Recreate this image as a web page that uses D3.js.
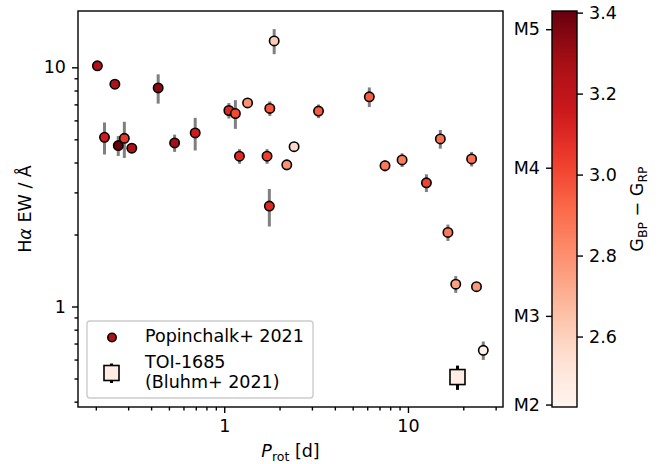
<!DOCTYPE html>
<html>
<head>
<meta charset="utf-8">
<script src="https://cdn.jsdelivr.net/npm/d3@7"></script>
<style>
  body { margin: 0; background: #fff; }
  text { font-family: "DejaVu Sans", sans-serif; fill: #000; }
</style>
</head>
<body>
<div id="main_div"></div>
<script>
// rotation period [d], H-alpha EW [A], error, Gaia BP-RP colour
var prot  = [0.204, 0.254, 0.223, 0.265, 0.286, 0.314, 0.437, 0.537, 0.695, 1.06,
             1.15, 1.34, 1.21, 1.77, 1.87, 1.71, 1.76, 2.19, 2.40, 3.26,
             6.16, 7.5, 9.29, 12.6, 15.0, 22.2, 16.5, 18.2, 23.6, 25.7];
var ewHa  = [10.15, 8.5, 5.1, 4.71, 5.05, 4.59, 8.2, 4.83, 5.32, 6.6,
             6.41, 7.1, 4.25, 6.73, 12.9, 4.25, 2.63, 3.91, 4.66, 6.56,
             7.53, 3.88, 4.10, 3.29, 5.02, 4.14, 2.04, 1.24, 1.21, 0.656];
var ewErr = [0.3, 0.3, 0.78, 0.45, 0.87, 0.15, 1.15, 0.4, 0.83, 0.49,
             0.88, 0.3, 0.3, 0.47, 1.55, 0.3, 0.47, 0.2, 0.1, 0.43,
             0.71, 0.21, 0.27, 0.28, 0.45, 0.29, 0.16, 0.1, 0.03, 0.058];
var bpRp  = [3.25, 3.25, 3.15, 3.4, 3.05, 3.25, 3.33, 3.28, 3.15, 3.1,
             3.0, 2.8, 3.1, 2.97, 2.62, 3.03, 3.1, 2.8, 2.57, 2.95,
             2.95, 2.87, 2.86, 3.02, 2.9, 2.9, 2.87, 2.75, 2.78, 2.45];

// TOI-1685 (Bluhm+ 2021)
var toiProt = 18.6, toiEw = 0.507, toiErr = 0.059, toiBpRp = 2.47;

var xTicks = [1, 10];
var yTicks = [1, 10];
var cbTicks = [2.6, 2.8, 3.0, 3.2, 3.4];
var sptLabels = ["M2", "M3", "M4", "M5"];
var sptBpRp = [2.432, 2.651, 3.017, 3.359];

var W = 663, H = 464;
var margin = {top: 11, left: 78},
    width = 425, height = 396;
var cbX = 552, cbW = 25;

var svg = d3.select("#main_div").append("svg")
    .attr("width", W).attr("height", H);

var x = d3.scaleLog().domain([0.16, 32.9]).range([margin.left, margin.left + width]);
var y = d3.scaleLog().domain([0.38, 17.2]).range([margin.top + height, margin.top]);
var c = d3.scaleLinear().domain([2.426, 3.404]).range([margin.top + height, margin.top]);

// matplotlib-like "Reds"
var reds = d3.scaleLinear()
    .domain(d3.range(9).map(function(i){ return i / 8; }))
    .range(d3.schemeReds[9])
    .interpolate(d3.interpolateRgb);
var colorOf = function(v){
    var t = (v - c.domain()[0]) / (c.domain()[1] - c.domain()[0]);
    return reds(Math.max(0, Math.min(1, t)));
};

var fs = 17.5;

// axes
function styleAxis(g){
    g.selectAll("path").remove();
    g.selectAll("line").attr("stroke", "#000").attr("stroke-width", 1.4);
    g.selectAll("text").style("font-size", fs + "px").style("font-family", "DejaVu Sans");
}
var xMinor = [];
[0.1, 1, 10].forEach(function(d){ for (var k = 2; k <= 9; k++) xMinor.push(d * k); });
xMinor = xMinor.filter(function(v){ return v > x.domain()[0] && v < x.domain()[1]; });
var yMinor = [];
[0.1, 1, 10].forEach(function(d){ for (var k = 2; k <= 9; k++) yMinor.push(d * k); });
yMinor = yMinor.filter(function(v){ return v > y.domain()[0] && v < y.domain()[1]; });

var bottomY = margin.top + height;
svg.append("g").attr("transform", "translate(0," + bottomY + ")")
    .call(d3.axisBottom(x).tickValues(xMinor).tickSize(3.5).tickFormat(""))
    .call(styleAxis);
svg.append("g").attr("transform", "translate(0," + bottomY + ")")
    .call(d3.axisBottom(x).tickValues(xTicks).tickSize(6).tickPadding(7).tickFormat(d3.format("d")))
    .call(styleAxis);
svg.append("g").attr("transform", "translate(" + margin.left + ",0)")
    .call(d3.axisLeft(y).tickValues(yMinor).tickSize(3.5).tickFormat(""))
    .call(styleAxis);
svg.append("g").attr("transform", "translate(" + margin.left + ",0)")
    .call(d3.axisLeft(y).tickValues(yTicks).tickSize(6).tickPadding(6).tickFormat(d3.format("d")))
    .call(styleAxis);

// error bars
var pts = prot.map(function(p, i){ return {p: p, ew: ewHa[i], err: ewErr[i], col: bpRp[i]}; });
svg.append("g").selectAll("line").data(pts).enter().append("line")
    .attr("x1", function(d){ return x(d.p); })
    .attr("x2", function(d){ return x(d.p); })
    .attr("y1", function(d){ return y(d.ew + d.err); })
    .attr("y2", function(d){ return y(d.ew - d.err); })
    .attr("stroke", "#808080").attr("stroke-width", 3);

svg.append("g").selectAll("circle").data(pts).enter().append("circle")
    .attr("cx", function(d){ return x(d.p); })
    .attr("cy", function(d){ return y(d.ew); })
    .attr("r", 4.7)
    .attr("fill", function(d){ return colorOf(d.col); })
    .attr("stroke", "#000").attr("stroke-width", 1.6);

// TOI-1685
svg.append("line")
    .attr("x1", x(toiProt)).attr("x2", x(toiProt))
    .attr("y1", y(toiEw + toiErr)).attr("y2", y(toiEw - toiErr))
    .attr("stroke", "#000").attr("stroke-width", 3);
svg.append("rect")
    .attr("x", x(toiProt) - 7.5).attr("y", y(toiEw) - 7.5)
    .attr("width", 15).attr("height", 15)
    .attr("fill", colorOf(toiBpRp))
    .attr("stroke", "#000").attr("stroke-width", 1.6);

// frame
svg.append("rect")
    .attr("x", margin.left).attr("y", margin.top)
    .attr("width", width).attr("height", height)
    .attr("fill", "none").attr("stroke", "#000").attr("stroke-width", 1.4);

// axis labels
var xl = svg.append("text")
    .attr("x", margin.left + width / 2).attr("y", 457)
    .attr("text-anchor", "middle").style("font-size", fs + "px");
xl.append("tspan").style("font-style", "italic").text("P");
xl.append("tspan").attr("dy", 4).style("font-size", "12.5px").text("rot");
xl.append("tspan").attr("dy", -4).text(" [d]");

var yl = svg.append("text")
    .attr("transform", "translate(31," + (margin.top + height / 2) + ") rotate(-90)")
    .attr("text-anchor", "middle").style("font-size", fs + "px");
yl.append("tspan").text("H");
yl.append("tspan").style("font-style", "italic").text("α");
yl.append("tspan").text(" EW / Å");

// legend
var lg = svg.append("g");
lg.append("rect")
    .attr("x", 87).attr("y", 321).attr("width", 226).attr("height", 77)
    .attr("rx", 3).attr("fill", "#fff").attr("fill-opacity", 0.8)
    .attr("stroke", "#ccc").attr("stroke-width", 1.4);
lg.append("circle").attr("cx", 112).attr("cy", 337.5).attr("r", 4.2)
    .attr("fill", colorOf(3.25)).attr("stroke", "#000").attr("stroke-width", 1.6);
lg.append("text").attr("x", 145).attr("y", 342).style("font-size", fs + "px").text("Popinchalk+ 2021");
lg.append("line").attr("x1", 111.5).attr("x2", 111.5).attr("y1", 363.5).attr("y2", 383)
    .attr("stroke", "#000").attr("stroke-width", 3);
lg.append("rect").attr("x", 104).attr("y", 365.5).attr("width", 15).attr("height", 15)
    .attr("fill", colorOf(toiBpRp)).attr("stroke", "#000").attr("stroke-width", 1.6);
lg.append("text").attr("x", 145).attr("y", 368).style("font-size", fs + "px").text("TOI-1685");
lg.append("text").attr("x", 145).attr("y", 388).style("font-size", fs + "px").text("(Bluhm+ 2021)");

// colorbar
var grad = svg.append("defs").append("linearGradient")
    .attr("id", "cbgrad").attr("x1", 0).attr("x2", 0).attr("y1", 1).attr("y2", 0);
grad.selectAll("stop").data(d3.range(0, 1.0001, 0.05)).enter().append("stop")
    .attr("offset", function(d){ return d; })
    .attr("stop-color", function(d){ return reds(d); });
svg.append("rect")
    .attr("x", cbX).attr("y", margin.top).attr("width", cbW).attr("height", height)
    .attr("fill", "url(#cbgrad)");
svg.append("g").attr("transform", "translate(" + (cbX + cbW) + ",0)")
    .call(d3.axisRight(c).tickValues(cbTicks).tickSize(6).tickPadding(6).tickFormat(d3.format(".1f")))
    .call(styleAxis);
svg.append("g").attr("transform", "translate(" + cbX + ",0)")
    .call(d3.axisLeft(c).tickValues(sptBpRp).tickSize(6).tickPadding(6)
        .tickFormat(function(d, i){ return sptLabels[i]; }))
    .call(styleAxis);
svg.append("rect")
    .attr("x", cbX).attr("y", margin.top).attr("width", cbW).attr("height", height)
    .attr("fill", "none").attr("stroke", "#000").attr("stroke-width", 1.4);

var cl = svg.append("text")
    .attr("transform", "translate(643," + (margin.top + height / 2) + ") rotate(-90)")
    .attr("text-anchor", "middle").style("font-size", fs + "px");
cl.append("tspan").text("G");
cl.append("tspan").attr("dy", 4).style("font-size", "12.5px").text("BP");
cl.append("tspan").attr("dy", -4).text(" − G");
cl.append("tspan").attr("dy", 4).style("font-size", "12.5px").text("RP");
</script>
</body>
</html>
